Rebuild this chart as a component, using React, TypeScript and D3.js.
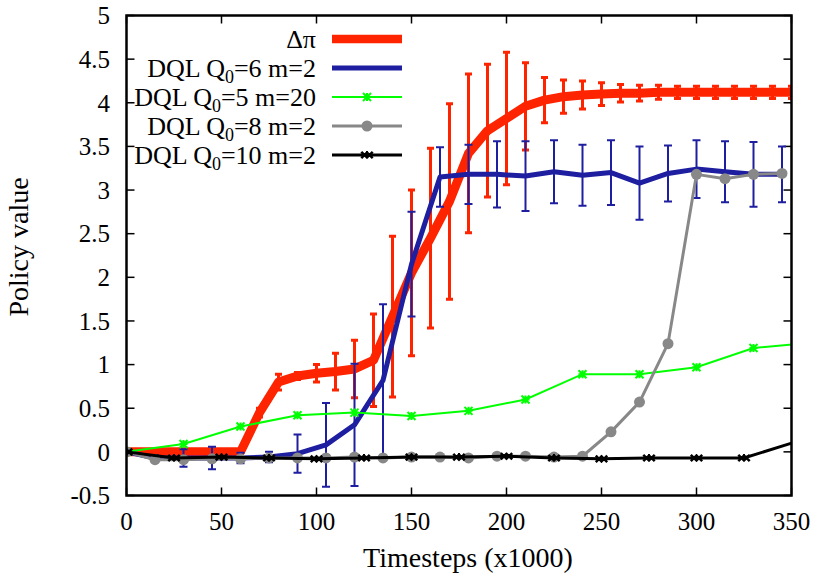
import { useMemo } from 'react'
import * as d3 from 'd3'

const W = 815
const H = 573
const FONT = "'Liberation Serif', 'Times New Roman', serif"
const TXT = { fontFamily: FONT }

// x ticks (x1000 timesteps) and y ticks
const xTicks = [0, 50, 100, 150, 200, 250, 300, 350]
const yTicks = [-0.5, 0, 0.5, 1, 1.5, 2, 2.5, 3, 3.5, 4, 4.5, 5]

// Δπ
const deltaPiX = [0, 10, 20, 30, 40, 50, 60, 70, 80, 90, 100, 110, 120, 130, 140, 150, 160, 170, 180, 190, 200, 210, 220, 230, 240, 250, 260, 270, 280, 290, 300, 310, 320, 330, 340, 350]
const deltaPiY = [0, 0, 0, 0, 0, 0, 0, 0.45, 0.8, 0.87, 0.9, 0.92, 0.95, 1.05, 1.55, 2.05, 2.45, 2.87, 3.42, 3.68, 3.82, 3.96, 4.03, 4.07, 4.09, 4.1, 4.11, 4.11, 4.12, 4.12, 4.12, 4.12, 4.12, 4.12, 4.12, 4.12]
const deltaPiErr = [0.02, 0.02, 0.02, 0.02, 0.02, 0.02, 0.02, 0.05, 0.09, 0.04, 0.1, 0.21, 0.33, 0.53, 0.92, 0.95, 1.03, 1.12, 0.91, 0.76, 0.76, 0.5, 0.26, 0.19, 0.16, 0.13, 0.1, 0.09, 0.08, 0.07, 0.07, 0.07, 0.07, 0.07, 0.07, 0.07]

// DQL Q0=6 m=2
const dql6X = [0, 15, 30, 45, 60, 75, 90, 105, 120, 135, 150, 165, 180, 195, 210, 225, 240, 255, 270, 285, 300, 315, 330, 345]
const dql6Y = [0, -0.07, -0.07, -0.07, -0.07, -0.06, -0.02, 0.08, 0.31, 0.82, 2.15, 3.15, 3.18, 3.18, 3.16, 3.21, 3.17, 3.2, 3.08, 3.19, 3.24, 3.21, 3.18, 3.18]
const dql6Err = [0, 0.03, 0.1, 0.13, 0.06, 0.06, 0.22, 0.48, 0.7, 0.87, 0.6, 0.34, 0.34, 0.38, 0.4, 0.36, 0.35, 0.37, 0.42, 0.32, 0.33, 0.35, 0.37, 0.32]

// DQL Q0=5 m=20
const dql5X = [0, 30, 60, 90, 120, 150, 180, 210, 240, 270, 300, 330, 360]
const dql5Y = [0, 0.09, 0.29, 0.42, 0.45, 0.41, 0.47, 0.6, 0.89, 0.89, 0.97, 1.19, 1.25]

// DQL Q0=8 m=2
const dql8X = [0, 15, 30, 45, 60, 75, 90, 105, 120, 135, 150, 165, 180, 195, 210, 225, 240, 255, 270, 285, 300, 315, 330, 345]
const dql8Y = [0, -0.09, -0.09, -0.08, -0.08, -0.07, -0.07, -0.07, -0.06, -0.07, -0.06, -0.06, -0.07, -0.05, -0.05, -0.06, -0.05, 0.23, 0.57, 1.24, 3.18, 3.13, 3.18, 3.19]

// DQL Q0=10 m=2
const dql10X = [0, 25, 50, 75, 100, 125, 150, 175, 200, 225, 250, 275, 300, 325, 375]
const dql10Y = [0, -0.07, -0.06, -0.07, -0.08, -0.07, -0.06, -0.06, -0.05, -0.07, -0.08, -0.07, -0.07, -0.07, 0.27]

const RED = '#ff2400'
const BLUE = '#1e1ea0'
const GREEN = '#00ff00'
const GRAY = '#888888'
const BLACK = '#000000'

const zip = (xs: number[], ys: number[]) => xs.map((x, i) => [x, ys[i]] as [number, number])

const Star = ({ cx, cy, r, color }: { cx: number; cy: number; r: number; color: string }) => (
  <path
    d={`M${cx - r},${cy - r}L${cx + r},${cy + r}M${cx - r},${cy + r}L${cx + r},${cy - r}M${cx - r},${cy}L${cx + r},${cy}M${cx},${cy - r}L${cx},${cy + r}`}
    stroke={color}
    strokeWidth={2}
    fill="none"
  />
)

const DoubleX = ({ cx, cy }: { cx: number; cy: number }) => {
  const r = 3.2
  const d = [-2.5, 2.5]
    .map((o) => `M${cx + o - r},${cy - r}L${cx + o + r},${cy + r}M${cx + o - r},${cy + r}L${cx + o + r},${cy - r}`)
    .join('')
  return <path d={d} stroke={BLACK} strokeWidth={2.5} fill="none" />
}

const ErrorBars = ({ xs, ys, es, x, y, color, width, cap }: any) => (
  <g stroke={color} strokeWidth={width} fill="none">
    {xs.map((v: number, i: number) => {
      const px = x(v)
      const top = y(ys[i] + es[i])
      const bot = y(ys[i] - es[i])
      return (
        <path
          key={i}
          d={`M${px},${top}L${px},${bot}M${px - cap},${top}L${px + cap},${top}M${px - cap},${bot}L${px + cap},${bot}`}
        />
      )
    })}
  </g>
)

export default function App() {
  const margin = { left: 126.5, right: 791.5, top: 15.5, bottom: 495.5 }
  const x = useMemo(() => d3.scaleLinear().domain([0, 350]).range([margin.left, margin.right]), [])
  const y = useMemo(() => d3.scaleLinear().domain([-0.5, 5]).range([margin.bottom, margin.top]), [])
  const line = d3.line<[number, number]>().x((d) => x(d[0])).y((d) => y(d[1]))

  const legendRows = [
    { label: null, y: 39, color: RED, w: 8.5, marker: 'none' },
    { label: '6 m=2', y: 68, color: BLUE, w: 5, marker: 'none' },
    { label: '5 m=20', y: 97, color: GREEN, w: 2, marker: 'star' },
    { label: '8 m=2', y: 126, color: GRAY, w: 3, marker: 'circle' },
    { label: '10 m=2', y: 155, color: BLACK, w: 3, marker: 'dx' },
  ]

  return (
    <svg width={W} height={H} style={{ position: 'absolute', left: 0, top: 0, background: '#fff' }}>
      <defs>
        <clipPath id="plot">
          <rect x={margin.left} y={margin.top} width={margin.right - margin.left} height={margin.bottom - margin.top} />
        </clipPath>
      </defs>

      {/* ticks */}
      <g stroke="#000" strokeWidth={1.5}>
        {xTicks.map((t) => (
          <g key={t}>
            <line x1={x(t)} x2={x(t)} y1={margin.bottom} y2={margin.bottom - 8} />
            <line x1={x(t)} x2={x(t)} y1={margin.top} y2={margin.top + 8} />
          </g>
        ))}
        {yTicks.map((t) => (
          <g key={t}>
            <line x1={margin.left} x2={margin.left + 8} y1={y(t)} y2={y(t)} />
            <line x1={margin.right} x2={margin.right - 8} y1={y(t)} y2={y(t)} />
          </g>
        ))}
      </g>
      <g fill="#000">
        {xTicks.map((t) => (
          <text key={t} x={x(t)} y={530} fontSize={25} style={TXT} textAnchor="middle">{t}</text>
        ))}
        {yTicks.map((t) => (
          <text key={t} x={110} y={y(t)} dy="0.35em" fontSize={25} style={TXT} textAnchor="end">{t}</text>
        ))}
      </g>
      <text x={468} y={567} fontSize={28} style={TXT} textAnchor="middle">Timesteps (x1000)</text>
      <text transform="translate(28,247) rotate(-90)" fontSize={28} style={TXT} textAnchor="middle">Policy value</text>

      {/* legend */}
      <g>
        {legendRows.map((r, i) => (
          <g key={i}>
            {r.label === null ? (
              <text x={316} y={r.y + 9} fontSize={26} style={TXT} textAnchor="end">Δπ</text>
            ) : (
              <text x={316} y={r.y + 9} fontSize={26} style={TXT} textAnchor="end">
                DQL Q<tspan fontSize={18} dy={6}>0</tspan>
                <tspan dy={-6}>={r.label}</tspan>
              </text>
            )}
            <line x1={332} x2={402} y1={r.y} y2={r.y} stroke={r.color} strokeWidth={r.w} />
            {r.marker === 'star' && <Star cx={367} cy={r.y} r={4} color={GREEN} />}
            {r.marker === 'circle' && <circle cx={367} cy={r.y} r={5.5} fill={GRAY} />}
            {r.marker === 'dx' && <DoubleX cx={367} cy={r.y} />}
          </g>
        ))}
      </g>

      <g clipPath="url(#plot)">
        {/* Δπ */}
        <ErrorBars xs={deltaPiX} ys={deltaPiY} es={deltaPiErr} x={x} y={y} color={RED} width={3} cap={3.5} />
        <path d={line(zip(deltaPiX, deltaPiY)) ?? ''} stroke={RED} strokeWidth={9} fill="none" strokeLinejoin="round" />

        {/* DQL Q0=6 */}
        <ErrorBars xs={dql6X} ys={dql6Y} es={dql6Err} x={x} y={y} color={BLUE} width={2} cap={4} />
        <path d={line(zip(dql6X, dql6Y)) ?? ''} stroke={BLUE} strokeWidth={5} fill="none" strokeLinejoin="round" />

        {/* DQL Q0=5 */}
        <path d={line(zip(dql5X, dql5Y)) ?? ''} stroke={GREEN} strokeWidth={2} fill="none" />
        {dql5X.map((v, i) => (
          <Star key={i} cx={x(v)} cy={y(dql5Y[i])} r={4} color={GREEN} />
        ))}

        {/* DQL Q0=8 */}
        <path d={line(zip(dql8X, dql8Y)) ?? ''} stroke={GRAY} strokeWidth={3} fill="none" />
        {dql8X.map((v, i) => (
          <circle key={i} cx={x(v)} cy={y(dql8Y[i])} r={5.5} fill={GRAY} />
        ))}

        {/* DQL Q0=10 */}
        <path d={line(zip(dql10X, dql10Y)) ?? ''} stroke={BLACK} strokeWidth={3} fill="none" />
        {dql10X.map((v, i) => (
          <DoubleX key={i} cx={x(v)} cy={y(dql10Y[i])} />
        ))}
      </g>

      <rect
        x={margin.left}
        y={margin.top}
        width={margin.right - margin.left}
        height={margin.bottom - margin.top}
        fill="none"
        stroke="#000"
        strokeWidth={2.5}
      />
    </svg>
  )
}
